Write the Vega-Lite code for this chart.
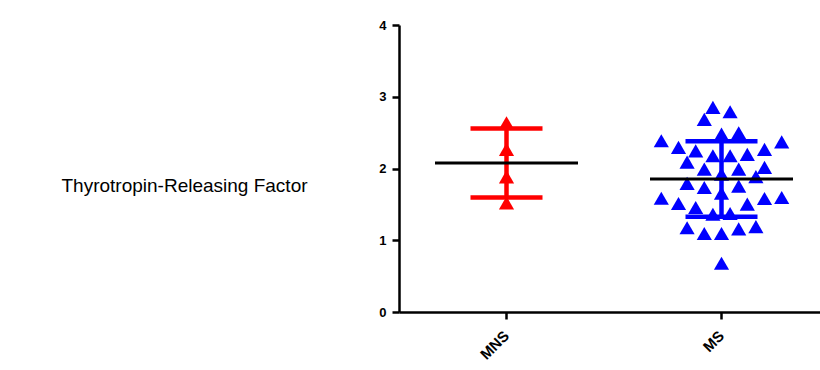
{
  "$schema": "https://vega.github.io/schema/vega-lite/v6.json",
  "autosize": {"type": "none"},
  "padding": {"left": 399, "top": 25, "right": 0, "bottom": 58},
  "width": 430,
  "height": 287,
  "config": {
    "view": {"stroke": null},
    "font": "Liberation Sans"
  },
  "data": {
    "values": [
      {"group": "MNS", "value": 2.637, "slot": 0},
      {"group": "MNS", "value": 2.266, "slot": 0},
      {"group": "MNS", "value": 1.884, "slot": 0},
      {"group": "MNS", "value": 1.521, "slot": 0},
      {"group": "MS", "value": 2.852, "slot": -1},
      {"group": "MS", "value": 2.791, "slot": 1},
      {"group": "MS", "value": 2.685, "slot": -2},
      {"group": "MS", "value": 2.479, "slot": 0},
      {"group": "MS", "value": 2.498, "slot": 2},
      {"group": "MS", "value": 2.386, "slot": -7},
      {"group": "MS", "value": 2.372, "slot": 7},
      {"group": "MS", "value": 2.294, "slot": -5},
      {"group": "MS", "value": 2.246, "slot": -3},
      {"group": "MS", "value": 2.266, "slot": 5},
      {"group": "MS", "value": 2.177, "slot": -1},
      {"group": "MS", "value": 2.177, "slot": 1},
      {"group": "MS", "value": 2.196, "slot": 3},
      {"group": "MS", "value": 2.089, "slot": -4},
      {"group": "MS", "value": 1.991, "slot": -2},
      {"group": "MS", "value": 1.991, "slot": 2},
      {"group": "MS", "value": 2.015, "slot": 5},
      {"group": "MS", "value": 1.921, "slot": 0},
      {"group": "MS", "value": 1.886, "slot": 4},
      {"group": "MS", "value": 1.792, "slot": -4},
      {"group": "MS", "value": 1.736, "slot": -2},
      {"group": "MS", "value": 1.754, "slot": 2},
      {"group": "MS", "value": 1.656, "slot": 0},
      {"group": "MS", "value": 1.586, "slot": -7},
      {"group": "MS", "value": 1.596, "slot": 7},
      {"group": "MS", "value": 1.512, "slot": -5},
      {"group": "MS", "value": 1.582, "slot": 5},
      {"group": "MS", "value": 1.503, "slot": 3},
      {"group": "MS", "value": 1.457, "slot": -3},
      {"group": "MS", "value": 1.363, "slot": -1},
      {"group": "MS", "value": 1.373, "slot": 1},
      {"group": "MS", "value": 1.175, "slot": -4},
      {"group": "MS", "value": 1.094, "slot": -2},
      {"group": "MS", "value": 1.094, "slot": 0},
      {"group": "MS", "value": 1.158, "slot": 2},
      {"group": "MS", "value": 1.189, "slot": 4},
      {"group": "MS", "value": 0.68, "slot": 0}
    ]
  },
  "encoding": {
    "x": {
      "field": "group",
      "type": "nominal",
      "sort": ["MNS", "MS"],
      "scale": {"type": "band", "paddingInner": 0, "paddingOuter": 0},
      "axis": {
        "title": null,
        "domainColor": "black",
        "domainWidth": 2.5,
        "tickColor": "black",
        "tickWidth": 2.5,
        "tickSize": 7,
        "labelAngle": -45,
        "labelAlign": "right",
        "labelBaseline": "middle",
        "labelPadding": 14,
        "labelFontWeight": "bold",
        "labelFontSize": 15,
        "labelColor": "black"
      }
    }
  },
  "layer": [
    {
      "mark": {"type": "point", "shape": "triangle-up", "filled": true, "opacity": 1, "size": 230},
      "encoding": {
        "xOffset": {
          "field": "slot",
          "type": "quantitative",
          "scale": {"domain": [-12.5, 12.5], "range": [0, 215]}
        },
        "y": {
          "field": "value",
          "type": "quantitative",
          "title": "Thyrotropin-Releasing Factor",
          "scale": {"domain": [0, 4], "nice": false, "zero": true},
          "axis": {
            "values": [0, 1, 2, 3, 4],
            "format": "d",
            "grid": false,
            "domainColor": "black",
            "domainWidth": 2.5,
            "tickColor": "black",
            "tickWidth": 2.5,
            "tickSize": 7,
            "labelPadding": 6,
            "labelFontWeight": "bold",
            "labelFontSize": 13,
            "labelColor": "black",
            "titleAngle": 0,
            "titleFontSize": 19,
            "titleFontWeight": "normal",
            "titleColor": "black",
            "titleAlign": "center",
            "titleBaseline": "middle",
            "titleX": -215,
            "titleY": 160
          }
        },
        "color": {
          "field": "group",
          "type": "nominal",
          "scale": {"domain": ["MNS", "MS"], "range": ["#ff0000", "#0000ff"]},
          "legend": null
        }
      }
    },
    {
      "mark": {"type": "errorbar", "extent": "stdev", "ticks": {"opacity": 1}, "rule": {"opacity": 1}, "size": 72, "thickness": 4.5},
      "encoding": {
        "y": {"field": "value", "type": "quantitative", "title": "Thyrotropin-Releasing Factor"},
        "color": {
          "field": "group",
          "type": "nominal",
          "scale": {"domain": ["MNS", "MS"], "range": ["#ff0000", "#0000ff"]},
          "legend": null
        }
      }
    },
    {
      "mark": {"type": "tick", "color": "black", "size": 143, "thickness": 3, "opacity": 1},
      "encoding": {
        "y": {"field": "value", "type": "quantitative", "aggregate": "mean", "title": "Thyrotropin-Releasing Factor"}
      }
    }
  ]
}
